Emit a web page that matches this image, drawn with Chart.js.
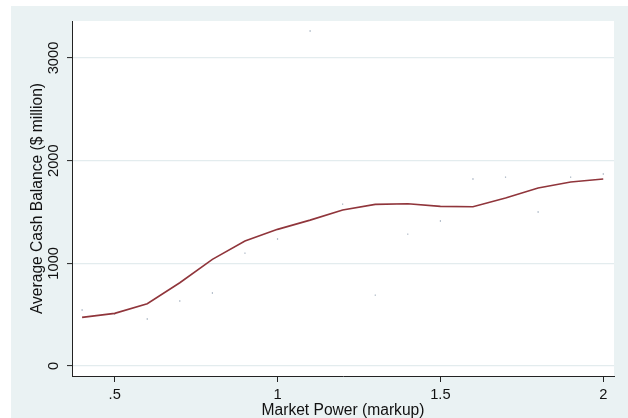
<!DOCTYPE html>
<html>
<head>
<meta charset="utf-8">
<script src="https://cdn.jsdelivr.net/npm/chart.js@4.4.1/dist/chart.umd.min.js"></script>
<style>
  html, body { margin: 0; padding: 0; background: #ffffff; }
  #wrap { position: relative; width: 628px; height: 418px; }
</style>
</head>
<body>
<div id="wrap"><canvas id="chart" width="628" height="418"></canvas></div>
<script>
// Markup grid (x) shared by the fitted line and the binned averages
const markup = [0.4, 0.5, 0.6, 0.7, 0.8, 0.9, 1.0, 1.1, 1.2, 1.3, 1.4, 1.5, 1.6, 1.7, 1.8, 1.9, 2.0];
// Smoothed average cash balance ($ million)
const smoothCash = [474, 513, 607, 811, 1039, 1217, 1331, 1421, 1519, 1574, 1580, 1555, 1551, 1636, 1733, 1792, 1821];
// Raw average cash balance per markup bin ($ million)
const binCash = [545, 506, 458, 633, 711, 1100, 1237, 3262, 1577, 691, 1285, 1412, 1821, 1840, 1500, 1840, 1870];
// Axis ticks
const xTicks = [0.5, 1, 1.5, 2];
const yTicks = [0, 1000, 2000, 3000];

const toPoints = (xs, ys) => xs.map((x, i) => ({ x: x, y: ys[i] }));

const FONT = '"Liberation Sans", Arial, sans-serif';
const BG = '#eaf2f3';

const backdrop = {
  id: 'backdrop',
  beforeDraw(chart) {
    const { ctx, chartArea: a } = chart;
    ctx.save();
    ctx.fillStyle = '#ffffff';
    ctx.fillRect(0, 0, chart.width, chart.height);
    ctx.fillStyle = BG;
    ctx.fillRect(11, 6, chart.width - 11, chart.height - 6);
    ctx.fillStyle = '#ffffff';
    ctx.fillRect(a.left, a.top, a.right - a.left, a.bottom - a.top);
    ctx.restore();
  }
};

new Chart(document.getElementById('chart'), {
  type: 'scatter',
  data: {
    datasets: [
      {
        label: 'Bin average',
        data: toPoints(markup, binCash),
        showLine: false,
        pointRadius: 0.7,
        pointBorderWidth: 0,
        pointBackgroundColor: '#8e9eb0',
        order: 2
      },
      {
        label: 'Smoothed',
        data: toPoints(markup, smoothCash),
        showLine: true,
        borderColor: '#90353b',
        borderWidth: 1.6,
        pointRadius: 0,
        tension: 0,
        fill: false,
        order: 1
      }
    ]
  },
  options: {
    responsive: false,
    animation: false,
    devicePixelRatio: 1,
    layout: { padding: { left: 11, top: 21, right: 14, bottom: 0 } },
    plugins: {
      legend: { display: false },
      tooltip: { enabled: false }
    },
    scales: {
      x: {
        type: 'linear',
        min: 0.369,
        max: 2.033,
        afterFit(scale) { scale.height = 42; },
        afterBuildTicks(scale) { scale.ticks = xTicks.map(v => ({ value: v })); },
        border: { display: true, color: '#222222', width: 1 },
        grid: { drawOnChartArea: false, drawTicks: true, tickLength: 6, tickColor: '#222222', tickWidth: 1 },
        ticks: {
          color: '#111111',
          font: { family: FONT, size: 14.7 },
          padding: 4,
          maxRotation: 0,
          callback: v => (v < 1 ? String(v).replace(/^0/, '') : String(v))
        },
        title: {
          display: true,
          text: 'Market Power (markup)',
          color: '#111111',
          font: { family: FONT, size: 15.6 },
          padding: { top: 0, bottom: -2 }
        }
      },
      y: {
        type: 'linear',
        min: -97,
        max: 3360,
        afterFit(scale) { scale.width = 61; },
        afterBuildTicks(scale) { scale.ticks = yTicks.map(v => ({ value: v })); },
        border: { display: true, color: '#222222', width: 1 },
        grid: { drawOnChartArea: true, color: '#e3ecee', lineWidth: 1.2, drawTicks: true, tickLength: 5, tickColor: '#222222', tickWidth: 1 },
        ticks: {
          color: '#111111',
          font: { family: FONT, size: 14.7 },
          minRotation: 90,
          maxRotation: 90,
          crossAlign: 'center',
          padding: -3,
          callback: v => String(v)
        },
        title: {
          display: true,
          text: 'Average Cash Balance ($ million)',
          color: '#111111',
          font: { family: FONT, size: 15.6 },
          padding: { top: 17, bottom: 0 }
        }
      }
    }
  },
  plugins: [backdrop]
});
</script>
</body>
</html>
